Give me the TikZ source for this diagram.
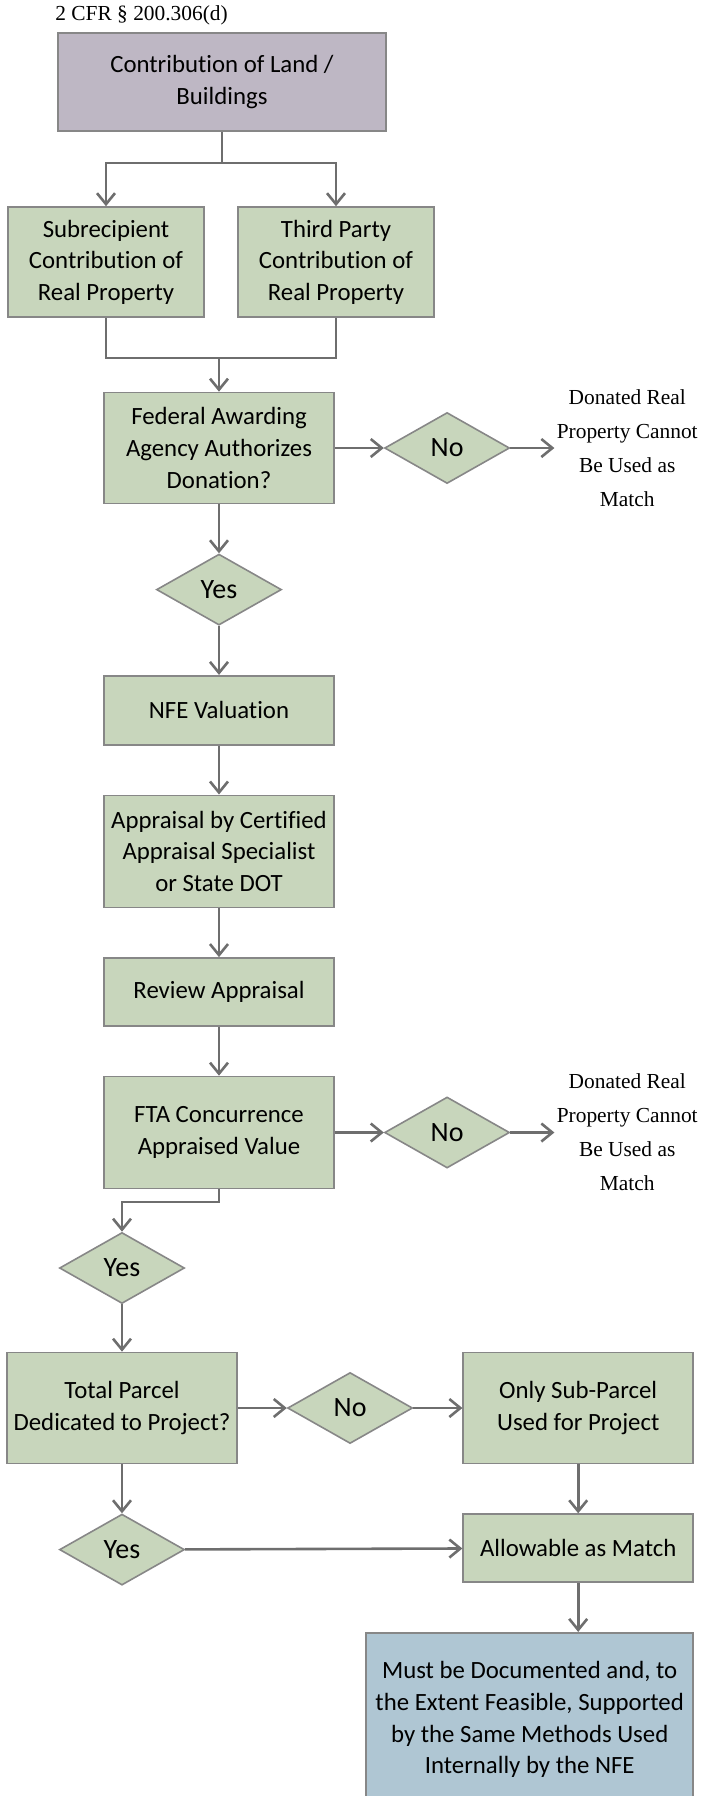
\documentclass[tikz,border=0pt]{standalone}
\usepackage{fontspec}
\setmainfont{Carlito}[Ligatures=NoCommon]
\newfontfamily\notefont{Liberation Serif}
\usetikzlibrary{arrows.meta, positioning, shapes.geometric}
\definecolor{boxgreen}{RGB}{200,214,188}
\definecolor{boxpurple}{RGB}{190,183,196}
\definecolor{boxblue}{RGB}{175,198,211}
\definecolor{edgegray}{RGB}{135,135,135}
\definecolor{linegray}{RGB}{110,110,110}

\begin{document}
\begin{tikzpicture}[x=0.5pt, y=-0.5pt,
		box/.style={draw=edgegray, line width=0.8pt, fill=boxgreen, align=center,
			inner sep=2pt, font=\fontsize{12.4}{15.8}\selectfont},
		decision/.style={diamond, draw=edgegray, line width=0.8pt, fill=boxgreen, inner sep=0pt,
			minimum width=62.5pt, minimum height=35.5pt, font=\fontsize{14}{16}\selectfont},
		note/.style={align=center, inner sep=1pt, font=\notefont\fontsize{10.7}{17}\selectfont},
		arrow/.style={-{Straight Barb[length=5.5pt,width=9pt]}, line width=1.3pt, draw=linegray},
		link/.style={line width=1.3pt, draw=linegray},
		node distance=24.5pt
	]
		\useasboundingbox (0,0) rectangle (703,1796);
		\node[note, anchor=west, inner sep=0pt] (cite) at (55,15) {2 CFR § 200.306(d)};
		\node[box, fill=boxpurple, minimum width=164pt, minimum height=49pt] (land) at (222,82) {Contribution of Land /\\Buildings};
		\node[box, minimum width=98pt, minimum height=55pt] (subrec) at (106,262) {Subrecipient\\Contribution of\\Real Property};
		\node[box, minimum width=98pt, minimum height=55pt] (third) at (336,262) {Third Party\\Contribution of\\Real Property};
		\node[box, minimum width=115pt, minimum height=55.5pt] (faa) at (219,448) {Federal Awarding\\Agency Authorizes\\Donation?};
		\node[decision, right=of faa] (no1) {No};
		\node[note, right=22pt of no1] (reject1) {Donated Real\\Property Cannot\\Be Used as\\Match};
		\node[decision, below=of faa] (yes1) {Yes};
		\node[box, minimum width=115pt, minimum height=34.5pt, below=of yes1] (nfe) {NFE Valuation};
		\node[box, minimum width=115pt, minimum height=56pt, below=of nfe] (appraisal) {Appraisal by Certified\\Appraisal Specialist\\or State DOT};
		\node[box, minimum width=115pt, minimum height=34pt, below=of appraisal] (review) {Review Appraisal};
		\node[box, minimum width=115pt, minimum height=56pt, below=of review] (fta) {FTA Concurrence\\Appraised Value};
		\node[decision, right=of fta] (no2) {No};
		\node[note, right=22pt of no2] (reject2) {Donated Real\\Property Cannot\\Be Used as\\Match};
		\node[decision] (yes2) at (122,1268) {Yes};
		\node[box, minimum width=115pt, minimum height=55.5pt] (parcel) at (122,1408) {Total Parcel\\Dedicated to Project?};
		\node[decision, right=of parcel] (no3) {No};
		\node[box, minimum width=115pt, minimum height=55.5pt, right=of no3] (subparcel) {Only Sub-Parcel\\Used for Project};
		\node[box, minimum width=115pt, minimum height=34pt, below=of subparcel] (match) {Allowable as Match};
		\node[decision, below=of parcel] (yes3) {Yes};
		\node[box, fill=boxblue, minimum width=163.5pt, minimum height=87pt, below=of match.south east, anchor=north east] (documented) {Must be Documented and, to\\the Extent Feasible, Supported\\by the Same Methods Used\\Internally by the NFE};
		% connectors
		\coordinate (split) at (222,163);
		\coordinate (merge) at (219,358);
		\coordinate (bend) at (122,1202);
		\draw[link] (land) -- (split);
		\foreach \t in {subrec,third}
			\draw[arrow] (split) -| (\t);
		\draw[link] (subrec) |- (merge) -| (third);
		\draw[arrow] (merge) -- (faa);
		\foreach \a/\b in {faa/no1,no1/reject1,faa/yes1,yes1/nfe,nfe/appraisal,appraisal/review,review/fta,fta/no2,no2/reject2,yes2/parcel,parcel/no3,no3/subparcel,subparcel/match,parcel/yes3,yes3/match}
			\draw[arrow] (\a) -- (\b);
		\draw[arrow] (fta) |- (bend) -- (yes2);
		\draw[arrow] (match) -- (match |- documented.north);
	\end{tikzpicture}
\end{document}
